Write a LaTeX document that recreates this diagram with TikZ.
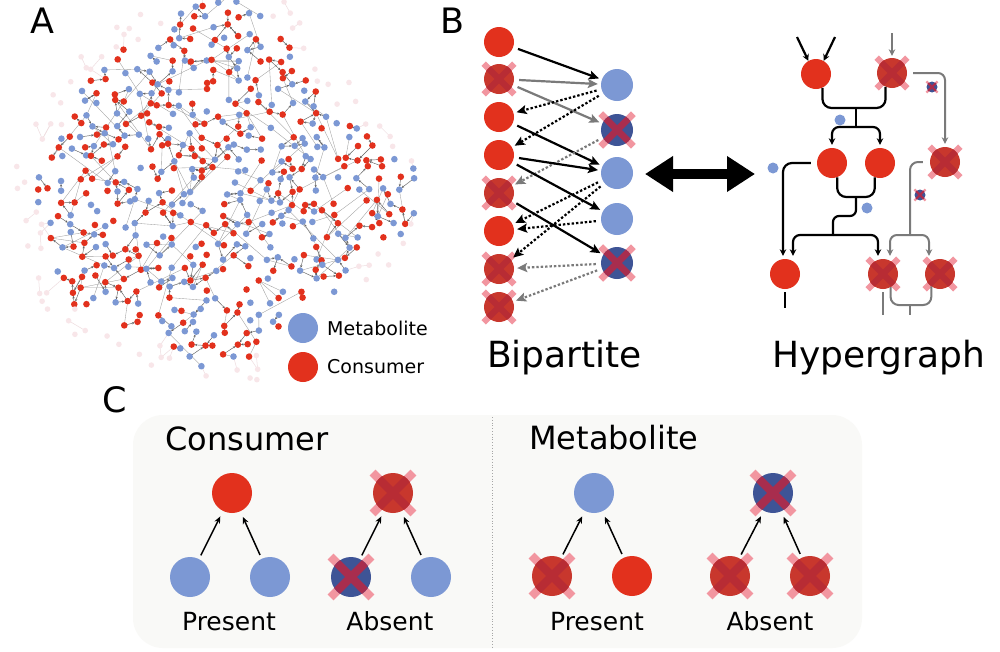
\documentclass[tikz,border=0pt]{standalone}
\usepackage{fontspec}
\setmainfont{DejaVu Sans}
\usetikzlibrary{arrows.meta,calc}
\definecolor{cred}{HTML}{E2311D}
\definecolor{cblue}{HTML}{7C98D4}
\definecolor{xred}{HTML}{C8372D}
\definecolor{xblue}{HTML}{3E5496}
\definecolor{xpink}{HTML}{F296A0}
\definecolor{xredin}{HTML}{B82C34}
\definecolor{xbluein}{HTML}{A82D4E}
\definecolor{egray}{HTML}{7A7A7A}
\definecolor{boxfill}{HTML}{F9F9F7}
\definecolor{ghost}{HTML}{F8E6E9}
\definecolor{ghostline}{HTML}{EEDCDF}
\newcommand\hsh[4]{\pgfmathsetmacro#1{frac(abs(sin(#2*97.1+#3*211.7+#4*53.3))*437.585+abs(cos(#2*41.3+#3*163.9+#4*29.7))*311.3)}}
\newcommand\cellstat[2]{%
 \hsh\hwa{#1}{#2}{1}\hsh\hwb{#1}{#2}{2}\hsh\hwc{#1}{#2}{3}%
 \pgfmathsetmacro\px{6+11*(#1)+7*(\hwa-0.5)}%
 \pgfmathsetmacro\py{4+11*(#2)+7*(\hwb-0.5)}%
 \pgfmathsetmacro\ddx{(\px-214)/10}%
 \pgfmathsetmacro\ddy{(\py-188)*0.102}%
 \pgfmathsetmacro\rr{10*veclen(\ddx,\ddy)}%
 \pgfmathsetmacro\nwth{atan2(\ddy,\ddx)}%
 \pgfmathsetmacro\rz{180+14*cos(4*\nwth)+10*sin(3*\nwth+40)+8*cos(5*\nwth+10)+6*sin(8*\nwth+70)}%
 \pgfmathtruncatemacro\cst{ifthenelse(and(\rr<\rz-6,\hwc>0.3),1,ifthenelse(and(\rr<\rz+20,\hwc>0.7),2,0))}%
 \pgfmathtruncatemacro\cst{ifthenelse(and(\px>280,\py>300),0,\cst)}%
}
% crossed node: style, name, position, radius
\newcommand\XN[4]{%
 \pgfmathsetmacro\xa{#4*1.02}%
 \draw[xpink, line width={0.42*#4pt}] ($(#3)+(-\xa,-\xa)$) -- ($(#3)+(\xa,\xa)$) ($(#3)+(-\xa,\xa)$) -- ($(#3)+(\xa,-\xa)$);
 \node[#1, minimum size={2*#4pt}] (#2) at (#3) {};
 \begin{scope}
 \clip (#3) circle (#4);
 \draw[inner#1, line width={0.42*#4pt}] ($(#3)+(-\xa,-\xa)$) -- ($(#3)+(\xa,\xa)$) ($(#3)+(-\xa,\xa)$) -- ($(#3)+(\xa,-\xa)$);
 \end{scope}}
\begin{document}
\begin{tikzpicture}[x=1pt,y=-1pt,
 base/.style={circle, inner sep=0pt, draw=none},
 cons/.style={base, fill=cred},
 meta/.style={base, fill=cblue},
 xcons/.style={base, fill=xred},
 xmeta/.style={base, fill=xblue},
 innerxcons/.style={draw=xredin},
 innerxmeta/.style={draw=xbluein},
 netedge/.style={draw=black!62, line width=0.45pt, -{Stealth[length=2.6pt,width=2.2pt]}, shorten >=3pt},
 longedge/.style={draw=black!38, line width=0.35pt},
 ghostedge/.style={draw=ghostline, line width=0.5pt},
 lbl/.style={inner sep=0pt, anchor=base west, font=\fontsize{35}{40}\selectfont},
 txt/.style={inner sep=0pt, font=\fontsize{#1}{#1}\selectfont},
 bsolid/.style={line width=2.2pt, -{Stealth[length=10pt,width=9pt,inset=2pt]}, shorten <=5pt, shorten >=3pt},
 bdot/.style={bsolid, dash pattern=on 2.4pt off 2pt},
 hyk/.style={line width=2.2pt, draw=black},
 hyg/.style={line width=2pt, draw=egray},
 hya/.style={-{Stealth[length=6.5pt,width=6.5pt]}},
 carr/.style={line width=1.5pt, -{Stealth[length=7pt,width=6pt]}, shorten <=4pt, shorten >=6pt},
]
\useasboundingbox (0,0) rectangle (1000,651);
\fill[white] (0,0) rectangle (1000,651);

% ---------------- Panel A: network ----------------
\begin{scope}
\foreach \i in {0,...,37}{\foreach \j in {0,...,34}{%
 \cellstat{\i}{\j}%
 \ifnum\cst>0
  \let\sx\px\let\sy\py\let\sst\cst
  \hsh\hwe{\i}{\j}{5}%
  \pgfmathtruncatemacro\dd{floor(8*\hwe)}%
  \pgfmathtruncatemacro\nbi{\i+round(cos(45*\dd))}%
  \pgfmathtruncatemacro\nbj{\j+round(sin(45*\dd))}%
  \cellstat{\nbi}{\nbj}%
  \ifnum\cst>0
   \pgfmathtruncatemacro\both{\sst*\cst}%
   \ifnum\both=1 \draw[netedge] (\sx,\sy) -- (\px,\py);
   \else \draw[ghostedge] (\sx,\sy) -- (\px,\py); \fi
  \fi
  \ifnum\sst=1
   \hsh\hwf{\i}{\j}{6}%
   \ifdim\hwf pt<0.55pt
    \hsh\hwg{\i}{\j}{7}\hsh\hwh{\i}{\j}{8}%
    \pgfmathtruncatemacro\nbi{\i+round(8*(\hwg-0.5))}%
    \pgfmathtruncatemacro\nbj{\j+round(8*(\hwh-0.5))}%
    \cellstat{\nbi}{\nbj}%
    \ifnum\cst=1 \draw[longedge] (\sx,\sy) -- (\px,\py); \fi
   \fi
  \fi
 \fi
}}
\foreach \i in {0,...,37}{\foreach \j in {0,...,34}{%
 \cellstat{\i}{\j}%
 \ifnum\cst=1
  \hsh\hwd{\i}{\j}{4}%
  \pgfmathtruncatemacro\colr{mod(\i+\j+ifthenelse(\hwd<0.22,1,0),2)}%
  \ifnum\colr=0 \fill[cred] (\px,\py) circle (3.3); \else \fill[cblue] (\px,\py) circle (3.3); \fi
 \fi
 \ifnum\cst=2 \fill[ghost] (\px,\py) circle (2.8); \fi
}}
\end{scope}

% legend
\node[meta, minimum size=30pt] (legM) at (303,328) {};
\node[cons, minimum size=30pt] (legC) at (303,367) {};
\node[txt=19, anchor=base west] (legMt) at (327,335) {Metabolite};
\node[txt=19, anchor=base west] (legCt) at (327,373) {Consumer};

% panel labels
\node[lbl] (labA) at (30,33) {A};
\node[lbl] (labB) at (440,33) {B};
\node[lbl] (labC) at (102,412) {C};

% ---------------- Panel B: bipartite ----------------
\foreach \n/\y in {1/42,3/117,4/155,6/231} \node[cons, minimum size=30pt] (L\n) at (499,\y) {};
\XN{xcons}{L2}{499,79}{15}
\XN{xcons}{L5}{499,193}{15}
\XN{xcons}{L7}{499,269}{15}
\XN{xcons}{L8}{499,307}{15}
\foreach \n/\y in {1/85,3/173,4/219} \node[meta, minimum size=32pt] (R\n) at (617,\y) {};
\XN{xmeta}{R2}{617,130}{16}
\XN{xmeta}{R5}{617,263}{16}

\draw[bsolid, black] (L1) -- (R1);
\draw[bsolid, egray] (L2) -- (R1);
\draw[bsolid, egray] (L2) -- (R2);
\draw[bdot, black] (R1) -- (L3);
\draw[bdot, black] (R1) -- (L4);
\draw[bsolid, black] (L3) -- (R3);
\draw[bdot, egray] (R2) -- (L5);
\draw[bsolid, black] (L4) -- (R3);
\draw[bsolid, black] (L4) -- (R4);
\draw[bdot, black] (R3) -- (L6);
\draw[bdot, black] (R3) -- (L7);
\draw[bdot, black] (R4) -- (L6);
\draw[bsolid, black] (L5) -- (R5);
\draw[bdot, egray] (R5) -- (L7);
\draw[bdot, egray] (R5) -- (L8);

% double arrow
\coordinate (da1) at (645,174);
\coordinate (da2) at (755,174);
\draw[line width=10pt, {Triangle[length=28pt,width=34pt]}-{Triangle[length=28pt,width=34pt]}] (da1) -- (da2);

% ---------------- Panel B: hypergraph ----------------
\node[cons, minimum size=30pt] (H1) at (816,74) {};
\XN{xcons}{H2}{892,73}{15}
\XN{xcons}{H3}{945,162}{15}
\node[cons, minimum size=30pt] (H4) at (832,163) {};
\node[cons, minimum size=30pt] (H5) at (880,163) {};
\node[cons, minimum size=30pt] (H6) at (785,274) {};
\XN{xcons}{H7}{883,274}{15}
\XN{xcons}{H8}{940,274}{15}
\node[meta, minimum size=11pt] (m1) at (840,120) {};
\node[meta, minimum size=11pt] (m2) at (773,168) {};
\node[meta, minimum size=11pt] (m3) at (867,208) {};
\XN{xmeta}{m4}{932,87}{5.5}
\XN{xmeta}{m5}{920,195}{5.5}

\coordinate (a1) at (797,37);
\coordinate (a2) at (835,37);
\coordinate (a3) at (892,33);
\draw[hyk, hya] (a1) -- (H1.120);
\draw[hyk, hya] (a2) -- (H1.60);
\draw[hyg, hya, shorten >=2pt] (a3) -- (H2.north);
\draw[hyg, hya, rounded corners=7pt] ([xshift=6pt]H2.east) -| ([yshift=3pt]H3.north);

\coordinate (j1) at (856,108);
\coordinate (j2) at (856,127);
\draw[hyk, rounded corners=9pt] (H1.-65) |- (j1) -| (H2.-115);
\draw[hyk] (j1) -- (j2);
\draw[hyk, hya, rounded corners=7pt] (j2) -| ([yshift=3pt]H4.north);
\draw[hyk, hya, rounded corners=7pt] (j2) -| ([yshift=3pt]H5.north);

\draw[hyk, hya, rounded corners=9pt] ([xshift=-6pt]H4.west) -| ([xshift=-2pt,yshift=3pt]H6.north);

\coordinate (j3) at (856,197);
\coordinate (j4) at (833,235);
\draw[hyk, rounded corners=9pt] (H4.-70) |- (j3) -| (H5.-110);
\draw[hyk, rounded corners=6pt] (j3) -- (856,216) -| (j4);
\draw[hyk, hya, rounded corners=7pt] (j4) -| ([xshift=8pt,yshift=3pt]H6.north);
\draw[hyk, hya, rounded corners=7pt] (j4) -| ([xshift=-5pt,yshift=3pt]H7.north);

\coordinate (j5) at (910,235);
\draw[hyg, rounded corners=8pt] ([xshift=-7pt]H3.west) -| (j5);
\draw[hyg, hya, rounded corners=7pt] (j5) -| ([xshift=7pt,yshift=3pt]H7.north);
\draw[hyg, hya, rounded corners=7pt] (j5) -| ([xshift=-11pt,yshift=3pt]H8.north);

\coordinate (b1) at (785,308);
\coordinate (b2) at (883,315);
\coordinate (j6) at (910,305);
\coordinate (b3) at (910,315);
\draw[hyk] ([yshift=-3pt]H6.south) -- (b1);
\draw[hyg] ([yshift=-3pt]H7.south) -- (b2);
\draw[hyg, rounded corners=8pt] (H7.-60) |- (j6) -| (H8.-125);
\draw[hyg] (j6) -- (b3);

\node[txt=36, anchor=base west] (tbip) at (487,367) {Bipartite};
\node[txt=36, anchor=base west] (thyp) at (772,367) {Hypergraph};

% ---------------- Panel C ----------------
\fill[boxfill, rounded corners=30pt] (133,415) rectangle (862,648);
\draw[black!35, dotted, line width=0.8pt] (492,417) -- (492,648);
\node[txt=32, anchor=base west] (tcons) at (165,450) {Consumer};
\node[txt=32, anchor=base west] (tmeta) at (529,449) {Metabolite};

\node[cons, minimum size=40pt] (CP) at (232,493) {};
\node[meta, minimum size=40pt] (CPa) at (190,577) {};
\node[meta, minimum size=40pt] (CPb) at (270,577) {};
\draw[carr] (CPa) -- (CP);
\draw[carr] (CPb) -- (CP);

\XN{xcons}{CA}{393,493}{20}
\XN{xmeta}{CAa}{351,577}{20}
\node[meta, minimum size=40pt] (CAb) at (431,577) {};
\draw[carr] (CAa) -- (CA);
\draw[carr] (CAb) -- (CA);

\node[meta, minimum size=40pt] (MP) at (594,493) {};
\XN{xcons}{MPa}{552,576}{20}
\node[cons, minimum size=40pt] (MPb) at (632,576) {};
\draw[carr] (MPa) -- (MP);
\draw[carr] (MPb) -- (MP);

\XN{xmeta}{MA}{773,493}{20}
\XN{xcons}{MAa}{730,576}{20}
\XN{xcons}{MAb}{810,576}{20}
\draw[carr] (MAa) -- (MA);
\draw[carr] (MAb) -- (MA);

\node[txt=25, anchor=base] (tp1) at (229,630) {Present};
\node[txt=25, anchor=base] (ta1) at (390,630) {Absent};
\node[txt=25, anchor=base] (tp2) at (597,630) {Present};
\node[txt=25, anchor=base] (ta2) at (770,630) {Absent};
\end{tikzpicture}
\end{document}
